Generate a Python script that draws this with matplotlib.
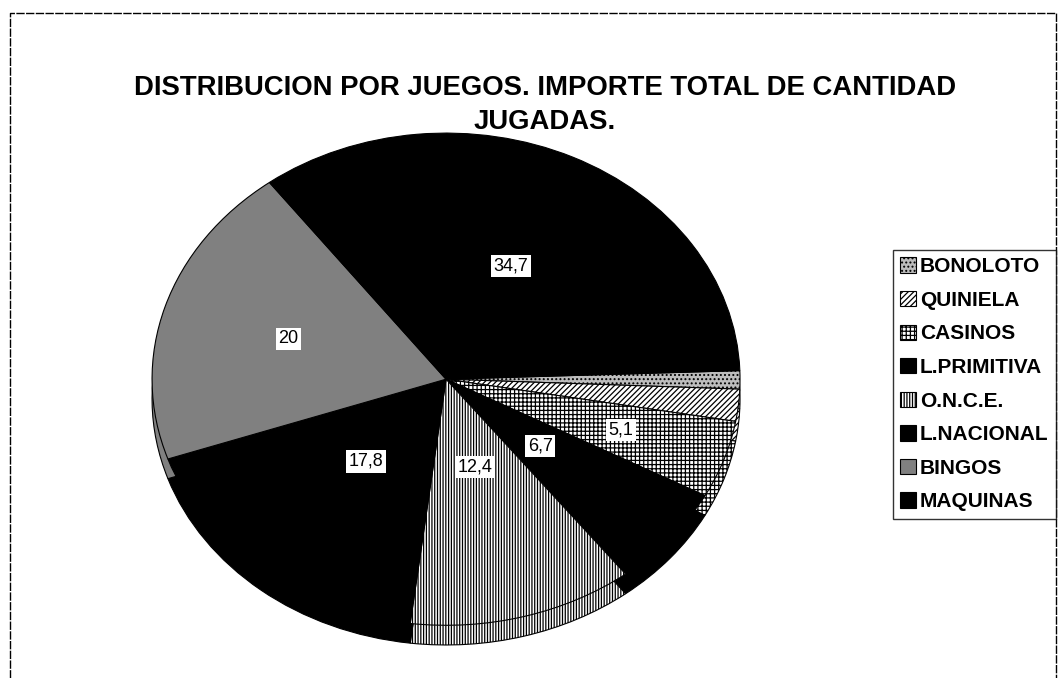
import matplotlib
matplotlib.use("Agg")
import numpy as np
import matplotlib.pyplot as plt
from matplotlib.lines import Line2D

plt.rcParams['font.family'] = ['Liberation Sans', 'DejaVu Sans']
plt.rcParams['hatch.linewidth'] = 0.9

categories = ["BONOLOTO", "QUINIELA", "CASINOS", "L.PRIMITIVA", "O.N.C.E.",
              "L.NACIONAL", "BINGOS", "MAQUINAS"]
values = [1.2, 2.1, 5.1, 6.7, 12.4, 17.8, 20, 34.7]
facecolors = ["#bdbdbd", "white", "white", "black", "white", "black", "#808080", "black"]
hatches = ["....", "//////", "++++", None, "||||||", None, None, None]
label_dist = [0.6, 0.6, 0.63, 0.42, 0.37, 0.43, 0.56, 0.51]
title = "DISTRIBUCION POR JUEGOS. IMPORTE TOTAL DE CANTIDAD\nJUGADAS."

fig = plt.figure(figsize=(10.64, 6.78), dpi=100)

# chart border
fig.add_artist(Line2D([10/1064, 10/1064, 1056/1064, 1056/1064],
                      [0, 1-13/678, 1-13/678, 0], transform=fig.transFigure,
                      color="black", lw=1.0, ls=(0, (6, 1))))

ax = fig.add_axes([0.1429, 0.0487, 0.5526, 0.755])

def fmt(label_iter):
    def f(pct):
        v = next(label_iter)
        return (f"{v:g}".replace(".", ",")) if v >= 5 else ""
    return f

# depth (3D rim)
depth_w, _ = ax.pie(values, startangle=2, counterclock=False, center=(0, -0.08),
                    colors=facecolors, wedgeprops=dict(edgecolor="black", linewidth=0.8),
                    frame=True)
for w, h in zip(depth_w, hatches):
    if h:
        w.set_hatch(h)

wedges, texts, autotexts = ax.pie(values, startangle=2, counterclock=False,
                                  colors=facecolors, autopct=fmt(iter(values)),
                                  pctdistance=0.55,
                                  wedgeprops=dict(edgecolor="black", linewidth=0.8),
                                  textprops=dict(fontsize=13, color="black"),
                                  frame=True)
for w, h, t, d in zip(wedges, hatches, autotexts, label_dist):
    if h:
        w.set_hatch(h)
    ang = np.deg2rad((w.theta1 + w.theta2) / 2)
    t.set_position((d * np.cos(ang), d * np.sin(ang)))
    if t.get_text():
        t.set_bbox(dict(facecolor="white", edgecolor="none", pad=2.0))

ax.set_xlim(-1.0, 1.0)
ax.set_ylim(-1.08, 1.0)
ax.set_aspect("auto")
ax.axis("off")

fig.text(545/1064, 1-105/678, title, ha="center", va="center", fontsize=19.8,
         fontweight="bold", linespacing=1.4)

leg = fig.legend(wedges, categories, loc="upper left",
                 bbox_to_anchor=(893/1064, 1-250/678),
                 prop=dict(size=15, weight="bold"),
                 frameon=True, fancybox=False, edgecolor="black",
                 handlelength=0.75, handleheight=0.75, handletextpad=0.2,
                 labelspacing=0.7, borderpad=0.35, borderaxespad=0)
leg.get_frame().set_linewidth(1.0)

fig.savefig("out.png", dpi=100, facecolor="white")
